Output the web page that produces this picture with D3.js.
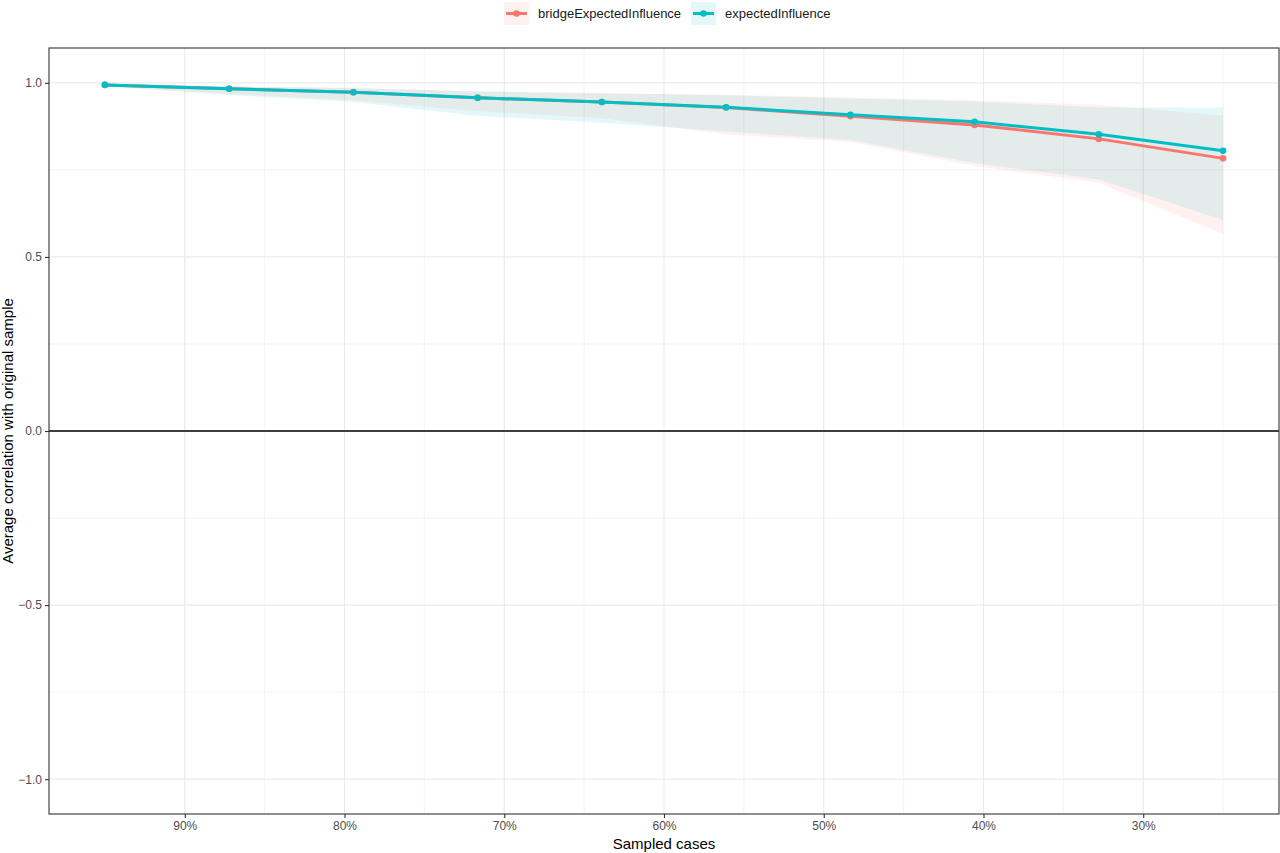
<!DOCTYPE html>
<html>
<head>
<meta charset="utf-8">
<script src="https://cdn.jsdelivr.net/npm/d3@7"></script>
<style>
  html, body { margin: 0; padding: 0; background: #fff; }
  svg { display: block; font-family: "Liberation Sans", Arial, sans-serif; }
</style>
</head>
<body>
<svg id="chart" width="1280" height="853"></svg>
<script>
// --- Data ---
const sampledCases = [0.95, 0.8722, 0.7944, 0.7167, 0.6389, 0.5611, 0.4833, 0.4056, 0.3278, 0.25];

const bridgeMean  = [0.994, 0.983, 0.973, 0.957, 0.945, 0.929, 0.904, 0.879, 0.839, 0.783];
const bridgeLower = [0.990, 0.968, 0.950, 0.918, 0.898, 0.852, 0.830, 0.762, 0.713, 0.566];
const bridgeUpper = [0.997, 0.990, 0.985, 0.976, 0.970, 0.966, 0.958, 0.950, 0.937, 0.906];

const expMean  = [0.994, 0.983, 0.973, 0.957, 0.945, 0.930, 0.908, 0.888, 0.852, 0.805];
const expLower = [0.990, 0.965, 0.945, 0.905, 0.885, 0.860, 0.836, 0.770, 0.722, 0.606];
const expUpper = [0.997, 0.990, 0.985, 0.975, 0.970, 0.964, 0.955, 0.946, 0.929, 0.929];

const seriesNames = ["bridgeExpectedInfluence", "expectedInfluence"];
const seriesColors = ["#F8766D", "#00BFC4"];

const xTicks = [0.9, 0.8, 0.7, 0.6, 0.5, 0.4, 0.3];
const xMinor = [0.85, 0.75, 0.65, 0.55, 0.45, 0.35, 0.25];
const yTicks = [1.0, 0.5, 0.0, -0.5, -1.0];
const yMinor = [0.75, 0.25, -0.25, -0.75];

// --- Setup ---
const svg = d3.select("#chart");
const panel = { left: 49, right: 1279, top: 48, bottom: 814 };

const x = d3.scaleLinear().domain([0.985, 0.215]).range([panel.left, panel.right]);
const y = d3.scaleLinear().domain([-1.1, 1.1]).range([panel.bottom, panel.top]);

const series = [
  { name: seriesNames[0], color: seriesColors[0], mean: bridgeMean, lower: bridgeLower, upper: bridgeUpper },
  { name: seriesNames[1], color: seriesColors[1], mean: expMean, lower: expLower, upper: expUpper }
].map(s => ({ ...s, pts: sampledCases.map((c, i) => ({ c, m: s.mean[i], lo: s.lower[i], hi: s.upper[i] })) }));

svg.append("rect")
  .attr("x", panel.left).attr("y", panel.top)
  .attr("width", panel.right - panel.left).attr("height", panel.bottom - panel.top)
  .attr("fill", "#fff");

// --- Grid ---
const grid = svg.append("g");
grid.selectAll(".xminor").data(xMinor).join("line")
  .attr("x1", d => x(d)).attr("x2", d => x(d))
  .attr("y1", panel.top).attr("y2", panel.bottom)
  .attr("stroke", "#EBEBEB").attr("stroke-width", 0.6);
grid.selectAll(".yminor").data(yMinor).join("line")
  .attr("y1", d => y(d)).attr("y2", d => y(d))
  .attr("x1", panel.left).attr("x2", panel.right)
  .attr("stroke", "#EBEBEB").attr("stroke-width", 0.6);
grid.selectAll(".xmajor").data(xTicks).join("line")
  .attr("x1", d => x(d)).attr("x2", d => x(d))
  .attr("y1", panel.top).attr("y2", panel.bottom)
  .attr("stroke", "#EBEBEB").attr("stroke-width", 1.2);
grid.selectAll(".ymajor").data(yTicks).join("line")
  .attr("y1", d => y(d)).attr("y2", d => y(d))
  .attr("x1", panel.left).attr("x2", panel.right)
  .attr("stroke", "#EBEBEB").attr("stroke-width", 1.2);

// --- Zero line ---
svg.append("line")
  .attr("x1", panel.left).attr("x2", panel.right)
  .attr("y1", y(0)).attr("y2", y(0))
  .attr("stroke", "#000").attr("stroke-width", 1.3);

// --- Ribbons ---
const area = d3.area()
  .x(d => x(d.c)).y0(d => y(d.lo)).y1(d => y(d.hi));
svg.append("g").selectAll("path").data(series).join("path")
  .attr("d", d => area(d.pts))
  .attr("fill", d => d.color)
  .attr("fill-opacity", 0.1);

// --- Lines ---
const line = d3.line().x(d => x(d.c)).y(d => y(d.m));
svg.append("g").selectAll("path").data(series).join("path")
  .attr("d", d => line(d.pts))
  .attr("fill", "none")
  .attr("stroke", d => d.color)
  .attr("stroke-width", 3);

// --- Points ---
svg.append("g").selectAll("g").data(series).join("g")
  .attr("fill", d => d.color)
  .selectAll("circle").data(d => d.pts).join("circle")
  .attr("cx", d => x(d.c)).attr("cy", d => y(d.m)).attr("r", 3.3);

// --- Panel border ---
svg.append("rect")
  .attr("x", panel.left).attr("y", panel.top)
  .attr("width", panel.right - panel.left).attr("height", panel.bottom - panel.top)
  .attr("fill", "none").attr("stroke", "#333333").attr("stroke-width", 1.1);

// --- X axis ---
const xAxis = svg.append("g")
  .attr("transform", `translate(0,${panel.bottom})`)
  .call(d3.axisBottom(x).tickValues(xTicks).tickFormat(d3.format(".0%")).tickSize(4).tickPadding(3));
xAxis.select(".domain").remove();
xAxis.selectAll(".tick line").attr("stroke", "#333333").attr("stroke-width", 1.1);
xAxis.selectAll("text").attr("fill", "#4D4D4D").style("font-size", "12px");

// --- Y axis ---
const yAxis = svg.append("g")
  .attr("transform", `translate(${panel.left},0)`)
  .call(d3.axisLeft(y).tickValues(yTicks).tickFormat(d3.format(".1f")).tickSize(4).tickPadding(3));
yAxis.select(".domain").remove();
yAxis.selectAll(".tick line").attr("stroke", "#333333").attr("stroke-width", 1.1);
yAxis.selectAll("text").attr("fill", "#4D4D4D").style("font-size", "12px")
  .text(d => d3.format(".1f")(d).replace("-", "\u2212"));

// --- Axis titles ---
svg.append("text")
  .attr("x", (panel.left + panel.right) / 2).attr("y", 849)
  .attr("text-anchor", "middle").attr("fill", "#000")
  .style("font-size", "15px")
  .text("Sampled cases");

svg.append("text")
  .attr("transform", `translate(13,${(panel.top + panel.bottom) / 2}) rotate(-90)`)
  .attr("text-anchor", "middle").attr("fill", "#000")
  .style("font-size", "15px")
  .text("Average correlation with original sample");

// --- Legend ---
const legend = svg.append("g").attr("transform", "translate(504,2)");
const keyX = [0, 187];
series.forEach((s, i) => {
  const g = legend.append("g").attr("transform", `translate(${keyX[i]},0)`);
  g.append("rect").attr("x", 0).attr("y", 0).attr("width", 25).attr("height", 23)
    .attr("fill", s.color).attr("fill-opacity", 0.1);
  g.append("line").attr("x1", 2).attr("x2", 23).attr("y1", 11.5).attr("y2", 11.5)
    .attr("stroke", s.color).attr("stroke-width", 3);
  g.append("circle").attr("cx", 12.5).attr("cy", 11.5).attr("r", 3.3).attr("fill", s.color);
  g.append("text").attr("x", 34).attr("y", 16)
    .attr("fill", "#1A1A1A").style("font-size", "13px")
    .text(s.name);
});
</script>
</body>
</html>
